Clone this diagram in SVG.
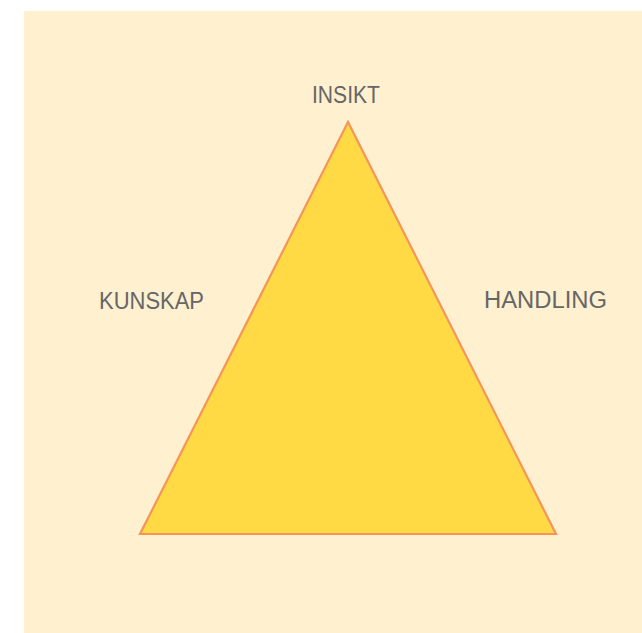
<svg xmlns="http://www.w3.org/2000/svg" width="642" height="633" viewBox="0 0 642 633">
<style>
.lbl{font-family:"Liberation Sans",Arial,sans-serif;font-size:23.5px;fill:#666666;}
</style>
<rect x="0" y="0" width="642" height="633" fill="#ffffff"/>
<rect id="bg" x="24" y="11" width="618" height="622" fill="#FFF0CF"/>
<g id="triangle">
<polygon points="348,122 140,534 556,534" fill="#FFDA45" stroke="#F5955A" stroke-width="2.2" stroke-linejoin="miter"/>
</g>
<g id="insikt"><text class="lbl" x="312" y="102.5" textLength="68" lengthAdjust="spacingAndGlyphs">INSIKT</text></g>
<g id="kunskap"><text class="lbl" x="99" y="308.5" textLength="105" lengthAdjust="spacingAndGlyphs">KUNSKAP</text></g>
<g id="handling"><text class="lbl" x="484" y="307.5" textLength="123" lengthAdjust="spacingAndGlyphs">HANDLING</text></g>
</svg>
